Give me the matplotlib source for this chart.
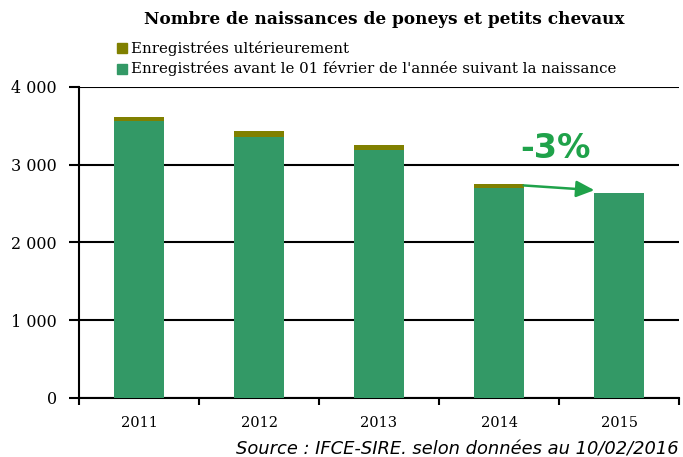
import matplotlib

matplotlib.use("Agg")
import matplotlib.pyplot as plt
from matplotlib.patches import Rectangle

years = ["2011", "2012", "2013", "2014", "2015"]
before_feb = [3565, 3360, 3192, 2703, 2638]   # enregistrées avant le 01 février
later = [51, 77, 64, 51, 0]                     # enregistrées ultérieurement
y_ticks = [0, 1000, 2000, 3000, 4000]
y_labels = ["0", "1 000", "2 000", "3 000", "4 000"]

GREEN = "#339966"
OLIVE = "#808000"
ARROW = "#1fa24a"
SERIF = ["DejaVu Serif"]

fig = plt.figure(figsize=(6.83, 4.57), dpi=100)
ax = fig.add_axes([79 / 683, 1 - 398 / 457, 600 / 683, 311 / 457])

x = list(range(len(years)))
ax.bar(x, before_feb, width=0.41, color=GREEN, zorder=3)
ax.bar(x, later, width=0.41, bottom=before_feb, color=OLIVE, zorder=3)

ax.set_xlim(-0.5, len(years) - 0.5)
ax.set_ylim(0, 4000)
ax.set_yticks(y_ticks)
ax.set_yticklabels(y_labels, fontfamily=SERIF, fontsize=11.5)
ax.set_xticks(x)
ax.set_xticklabels(years, fontfamily=SERIF, fontsize=10.5)
ax.tick_params(axis="x", length=0, pad=13)
ax.set_xticks([i - 0.5 for i in range(len(years) + 1)], minor=True)
ax.tick_params(axis="x", which="minor", length=5, width=1.5, direction="out")
ax.tick_params(axis="y", length=7, width=1.5, direction="out", pad=9)
ax.yaxis.grid(True, color="black", lw=1.5, zorder=1)
for side in ("top", "right"):
    ax.spines[side].set_visible(False)
for side in ("left", "bottom"):
    ax.spines[side].set_linewidth(1.5)

# trend arrow 2014 -> 2015
top14 = before_feb[3] + later[3]
ax.annotate(
    "", xy=(4 - 0.205, before_feb[4] + 35), xytext=(3 + 0.205, top14 - 20),
    arrowprops=dict(arrowstyle="-|>,head_length=1.1,head_width=0.5",
                    color=ARROW, lw=1.8, shrinkA=0, shrinkB=0),
    zorder=5,
)
ax.text(3.47, 3215, "-3%", color=ARROW, fontsize=24, fontweight="bold",
        ha="center", va="center", family="DejaVu Sans")

fig.text(0.563, 1 - 19 / 457, "Nombre de naissances de poneys et petits chevaux",
         ha="center", va="center", fontfamily=SERIF, fontweight="bold", fontsize=12.2)

legend_items = [("Enregistrées ultérieurement", OLIVE, 48),
                ("Enregistrées avant le 01 février de l'année suivant la naissance", GREEN, 69)]
for label, color, ypx in legend_items:
    fig.patches.append(Rectangle((117 / 683, 1 - (ypx + 5) / 457), 10 / 683, 10 / 457,
                                 transform=fig.transFigure, color=color))
    fig.text(131 / 683, 1 - ypx / 457, label, ha="left", va="center",
             fontfamily=SERIF, fontsize=10.8)

fig.text(679 / 683, 1 - 449 / 457, "Source : IFCE-SIRE. selon données au 10/02/2016",
         ha="right", va="center", style="italic", fontsize=12.9, family="DejaVu Sans")

fig.savefig("out.png", dpi=100)
